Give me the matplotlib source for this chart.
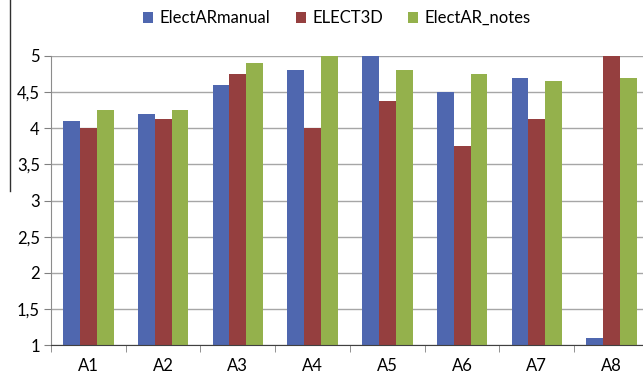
import numpy as np
import matplotlib.pyplot as plt
from matplotlib.lines import Line2D

plt.rcParams['font.family'] = ['Lato', 'DejaVu Sans']

categories = ["A1", "A2", "A3", "A4", "A5", "A6", "A7", "A8"]
series_names = ["ElectARmanual", "ELECT3D", "ElectAR_notes"]
electar_manual = [4.1, 4.2, 4.6, 4.8, 5.0, 4.5, 4.7, 1.1]
elect3d = [4.0, 4.125, 4.75, 4.0, 4.375, 3.75, 4.125, 5.0]
electar_notes = [4.25, 4.25, 4.9, 5.0, 4.8, 4.75, 4.65, 4.7]
y_ticks = [1, 1.5, 2, 2.5, 3, 3.5, 4, 4.5, 5]

colors = ["#4F67AF", "#953F3F", "#94B14C"]

fig = plt.figure(figsize=(6.43, 3.78), dpi=100)
ax = fig.add_axes([0.0793, 0.087, 0.93, 0.765])

x = np.arange(len(categories))
width = 0.225
for i, (name, vals) in enumerate(zip(series_names, [electar_manual, elect3d, electar_notes])):
    ax.bar(x + (i - 1) * width, np.array(vals) - 1, width, bottom=1,
           color=colors[i], label=name, zorder=3)

ax.set_ylim(1, 5)
ax.set_xlim(-0.5, 7.5)
ax.set_yticks(y_ticks)
ax.set_yticklabels([f"{t:g}".replace(".", ",") for t in y_ticks], fontsize=12)
ax.yaxis.grid(True, color="#A6A6A6", linewidth=1, zorder=0)

ax.set_xticks(x)
ax.set_xticklabels(categories, fontsize=12)
ax.tick_params(axis="x", length=0, pad=9)
ax.set_xticks(np.arange(-0.5, 8, 1), minor=True)
ax.tick_params(axis="x", which="minor", length=5, color="#808080", direction="out")
ax.tick_params(axis="y", length=5, color="#808080", direction="out", pad=3)

for s in ["top", "right"]:
    ax.spines[s].set_visible(False)
ax.spines["left"].set_color("#8C8C8C")
ax.spines["bottom"].set_color("#404040")
ax.spines["bottom"].set_zorder(4)

fig.legend(loc="center", bbox_to_anchor=(0.524, 0.952), ncol=3, frameon=False,
           fontsize=12, handlelength=0.6, handleheight=0.6, handletextpad=0.4,
           columnspacing=1.5)

# stray border line at the left edge of the original image
fig.add_artist(Line2D([0.0156, 0.0156], [1.0, 0.495], color="#303030", linewidth=1))

fig.savefig("out.png", dpi=100)
